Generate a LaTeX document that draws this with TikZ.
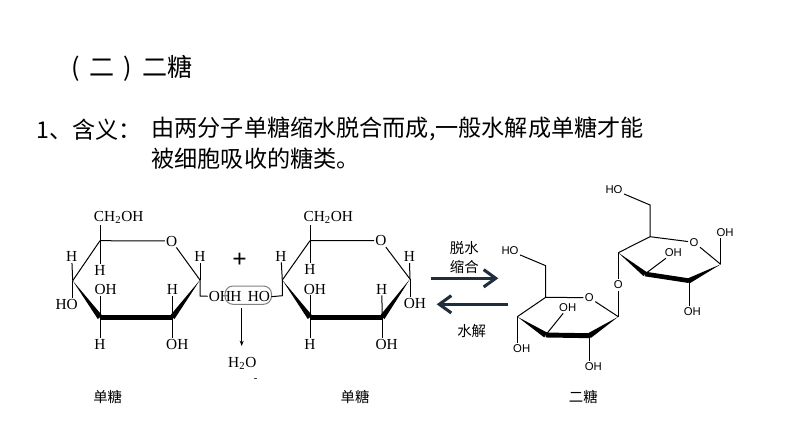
\documentclass[tikz,border=0pt]{standalone}
\usepackage{fontspec}
\setmainfont{Liberation Serif}
\newfontfamily\cjk{Noto Sans CJK SC}
\newfontfamily\labelsans{Liberation Sans}
\usetikzlibrary{arrows.meta,calc}
\definecolor{arrowdark}{RGB}{31,45,61}
\tikzset{every picture/.style={line width=0.75pt}}
\tikzset{
  atom/.style={inner sep=0.6pt,font=\fontsize{11.5}{12}\selectfont},
  sansatom/.style={inner sep=0.8pt,font=\labelsans\fontsize{8.5}{9}\selectfont},
  title/.style={anchor=west,inner sep=0pt,font=\cjk\fontsize{18.8}{22}\selectfont},
  body/.style={anchor=west,inner sep=0pt,font=\cjk\fontsize{17.35}{22}\selectfont},
  caption/.style={inner sep=0pt,font=\cjk\fontsize{10.8}{13}\selectfont},
  boldbond/.style={line width=4.2pt},
  bigarrow/.style={draw=arrowdark,line width=2.3pt,-{Straight Barb[length=9pt,width=13pt,line width=2.3pt]}}
}
\begin{document}
\begin{tikzpicture}[x=0.75pt,y=0.75pt,yscale=-1,xscale=1]
\useasboundingbox (0,0) rectangle (794,447);

% Text Node
\node (title) [title] at (71,68.5) {(\hspace{7pt}二\hspace{7pt})\hspace{8pt}二糖};
\node (term) [body] at (36,130) {1、含义：};
\node (line1) [body] at (151,129) {由两分子单糖缩水脱合而成,一般水解成单糖才能};
\node (line2) [body] at (151,159) {被细胞吸收的糖类。};

%First ring
\coordinate (c1a) at (200,280);
\coordinate (c2a) at (172.3,317.3);
\coordinate (c3a) at (100,317.3);
\coordinate (c4a) at (72.7,280.7);
\coordinate (c5a) at (100,240.7);
\coordinate (linka) at (200,296);
\node (oa) [atom] at (171.7,241) {O};
\node (cha) [atom] at (118.7,217.7) {CH\textsubscript{2}OH};
\node (h4a) [atom] at (71.7,256.7) {H};
\node (h5a) [atom] at (100,270) {H};
\node (oh3a) [atom] at (105.7,289.3) {OH};
\node (ho4a) [atom] at (66.7,304) {HO};
\node (h2a) [atom] at (172.3,289.3) {H};
\node (h1a) [atom] at (200,256.7) {H};
\node (oh1a) [atom] at (220,296.7) {OH};
\node (h3a) [atom] at (100,344) {H};
\node (oh2a) [atom] at (177.3,344) {OH};
\draw (c5a) -- (oa) -- (c1a);
\draw (c5a) -- (c4a);
\draw (c5a) -- (cha.south -| c5a);
\draw (c5a) -- (h5a);
\draw (c4a) -- (h4a);
\draw (c4a) -- (ho4a.north -| c4a);
\draw (c3a) -- (oh3a.south -| c3a);
\draw (c3a) -- (h3a);
\draw (c2a) -- (h2a);
\draw (c2a) -- (oh2a.north -| c2a);
\draw (c1a) -- (h1a);
\draw (c1a) -- (linka) -- (oh1a);
\fill (c4a) -- ($(c3a)+(2.2,-1.7)$) -- ($(c3a)+(-2.2,1.7)$) -- cycle;
\fill (c1a) -- ($(c2a)+(2.2,1.7)$) -- ($(c2a)+(-2.2,-1.7)$) -- cycle;
\draw [boldbond] (c3a) -- (c2a);

%Second ring
\coordinate (c1b) at (410,279);
\coordinate (c2b) at (382.3,317.3);
\coordinate (c3b) at (310,317.3);
\coordinate (c4b) at (282.3,280);
\coordinate (c5b) at (310,240.7);
\coordinate (linkb) at (282.3,295.7);
\node (ob) [atom] at (381,240.7) {O};
\node (chb) [atom] at (328.3,217.7) {CH\textsubscript{2}OH};
\node (h4b) [atom] at (281,256) {H};
\node (h5b) [atom] at (310,269) {H};
\node (oh3b) [atom] at (315,289) {OH};
\node (h2b) [atom] at (381.7,289) {H};
\node (h1b) [atom] at (409.3,256.7) {H};
\node (oh1b) [atom] at (415,303.3) {OH};
\node (h3b) [atom] at (310,344) {H};
\node (oh2b) [atom] at (386.7,344) {OH};
\draw (c5b) -- (ob) -- (c1b);
\draw (c5b) -- (c4b);
\draw (c5b) -- (chb.south -| c5b);
\draw (c5b) -- (h5b);
\draw (c4b) -- (h4b);
\draw (c3b) -- (oh3b.south -| c3b);
\draw (c3b) -- (h3b);
\draw (c2b) -- (h2b);
\draw (c2b) -- (oh2b.north -| c2b);
\draw (c1b) -- (h1b);
\draw (c1b) -- (oh1b.north -| c1b);
\fill (c4b) -- ($(c3b)+(2.2,-1.7)$) -- ($(c3b)+(-2.2,1.7)$) -- cycle;
\fill (c1b) -- ($(c2b)+(2.2,1.7)$) -- ($(c2b)+(-2.2,-1.7)$) -- cycle;
\draw [boldbond] (c3b) -- (c2b);

%Water leaving
\node (plus) [inner sep=0pt,font=\bfseries\fontsize{19}{19}\selectfont] at (239.5,260.5) {+};
\node (hw) [atom] at (236,296.7) {H};
\node (hob) [atom] at (259,296.7) {HO};
\draw [gray,rounded corners=6pt] (225,286) rectangle (271.5,304.3);
\draw (hob.east) -- (linkb) -- (c4b);
\coordinate (wstart) at (241.7,308.3);
\coordinate (wend) at (241.7,346);
\node (water) [atom] at (242.3,363.3) {H\textsubscript{2}O};
\draw [-{Stealth[length=4pt,width=3pt]},line width=0.6pt] (wstart) -- (wend);
\node (dot) [inner sep=0pt,font=\fontsize{8}{8}\selectfont] at (255.7,380) {-};

%Reaction arrows
\coordinate (ra) at (431,278.3);
\coordinate (rb) at (498.3,278.3);
\coordinate (la) at (508.3,304.3);
\coordinate (lb) at (436.7,304.3);
\draw [bigarrow] (ra) -- (rb);
\draw [bigarrow] (la) -- (lb);
\node (up) [caption] at (464.3,248.3) {脱水};
\node (cond) [caption] at (464.3,266.7) {缩合};
\node (hyd) [caption] at (471.7,331) {水解};

%Third ring
\coordinate (ch3c) at (545.7,265.7);
\coordinate (c1c) at (618.3,316.7);
\coordinate (c2c) at (589.3,335.7);
\coordinate (c3c) at (545.7,335);
\coordinate (c4c) at (517.3,316.7);
\coordinate (c5c) at (545.7,297.3);
\node (oc) [sansatom] at (589.3,297.7) {O};
\node (hoc) [sansatom] at (510,250.7) {HO};
\node (oh3c) [sansatom] at (567.7,307.7) {OH};
\node (oh4c) [sansatom] at (521.7,348.3) {OH};
\node (oh2c) [sansatom] at (593.3,366.7) {OH};
\draw (hoc) -- (ch3c) -- (c5c) -- (oc) -- (c1c);
\draw (c5c) -- (c4c);
\draw (c3c) -- (oh3c);
\draw (c4c) -- (oh4c.north -| c4c);
\draw (c2c) -- (oh2c.north -| c2c);
\fill (c4c) -- ($(c3c)+(1.5,-2.4)$) -- ($(c3c)+(-1.5,2.4)$) -- cycle;
\fill (c1c) -- ($(c2c)+(1.5,2.3)$) -- ($(c2c)+(-1.5,-2.3)$) -- cycle;
\draw [line width=3.7pt] (c3c) -- (c2c);

%Fourth ring
\coordinate (ch3d) at (650,205);
\coordinate (c1d) at (720.7,264.3);
\coordinate (c2d) at (689,280.7);
\coordinate (c3d) at (645,274);
\coordinate (c4d) at (618.3,252.7);
\coordinate (c5d) at (650,236.7);
\node (od) [sansatom] at (694,242.3) {O};
\node (hod) [sansatom] at (614,189.7) {HO};
\node (oh1d) [sansatom] at (725,232.7) {OH};
\node (oh3d) [sansatom] at (673.3,252.7) {OH};
\node (oh2d) [sansatom] at (692.3,311.7) {OH};
\node (bridge) [sansatom] at (618.3,285) {O};
\draw (hod) -- (ch3d) -- (c5d) -- (od) -- (c1d);
\draw (c5d) -- (c4d);
\draw (c1d) -- (oh1d.south -| c1d);
\draw (c3d) -- (oh3d);
\draw (c2d) -- (oh2d.north -| c2d);
\draw (c4d) -- (bridge) -- (c1c);
\fill (c4d) -- ($(c3d)+(1.6,-2)$) -- ($(c3d)+(-1.6,2)$) -- cycle;
\fill (c1d) -- ($(c2d)+(1.2,2.3)$) -- ($(c2d)+(-1.2,-2.3)$) -- cycle;
\draw [line width=3.5pt] (c3d) -- (c2d);

% Text Node
\node (mono1) [caption] at (107.7,396.7) {单糖};
\node (mono2) [caption] at (355,396.7) {单糖};
\node (di) [caption] at (583.3,396.7) {二糖};

\end{tikzpicture}
\end{document}
